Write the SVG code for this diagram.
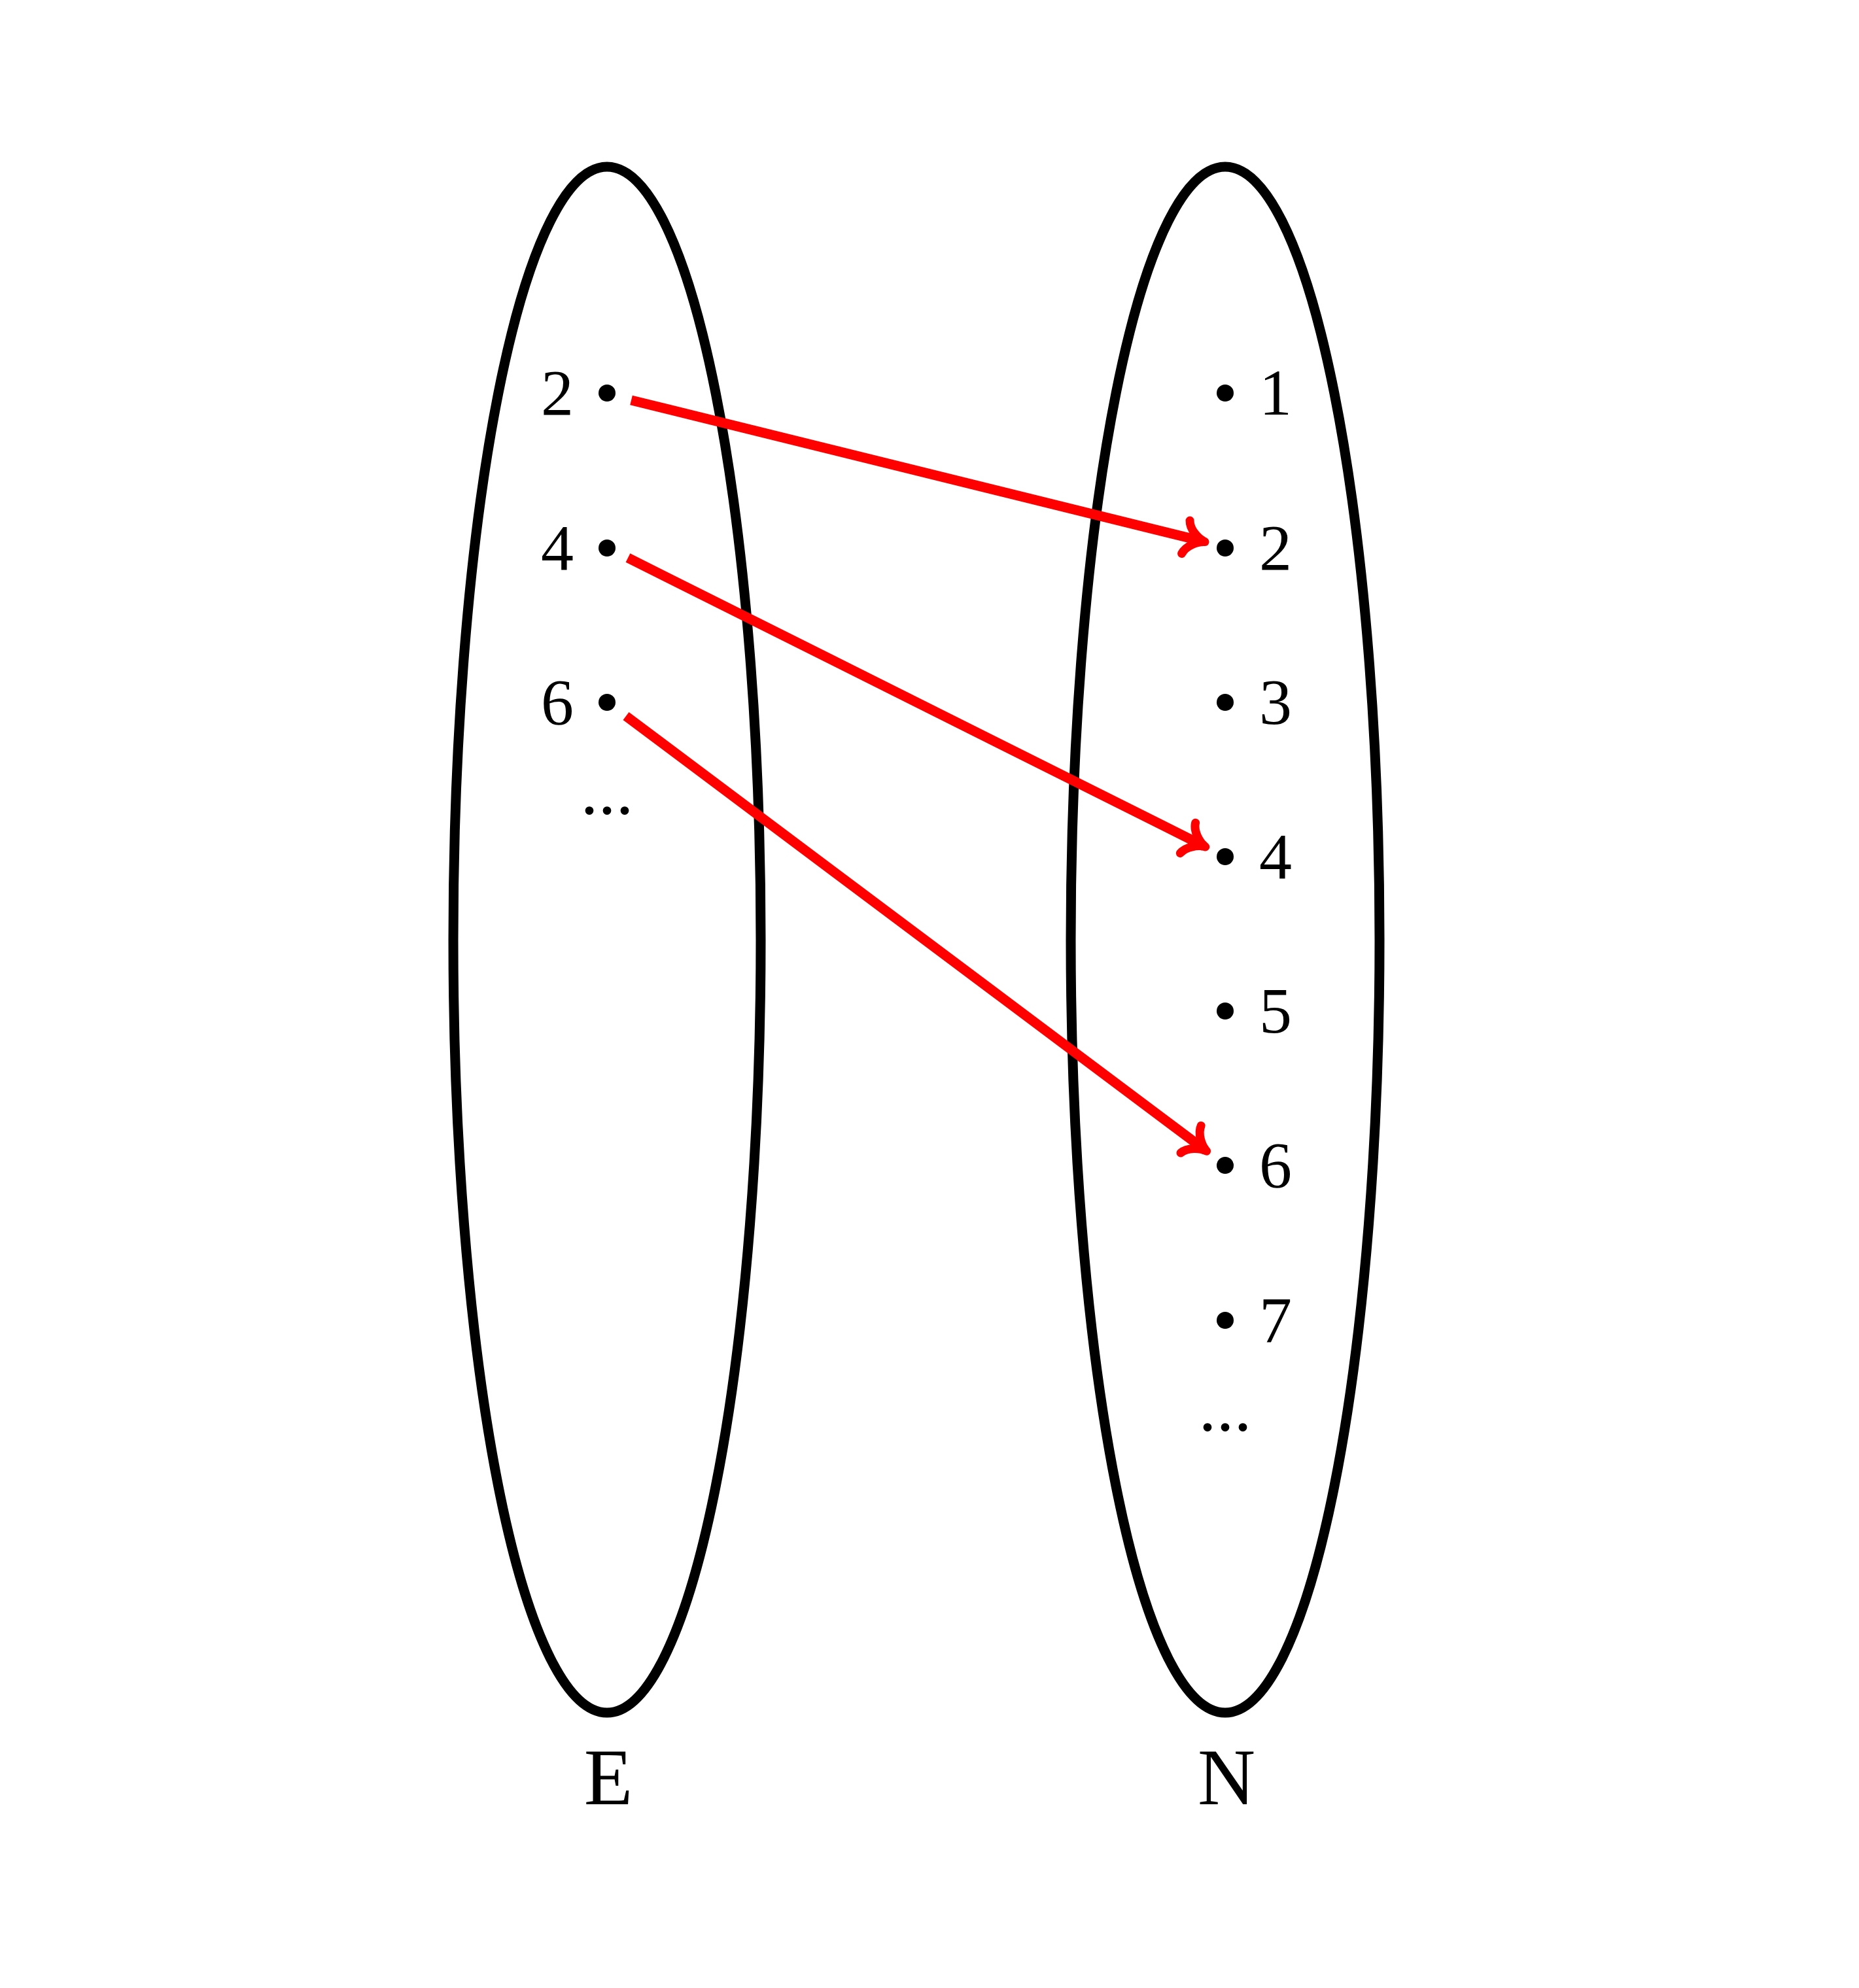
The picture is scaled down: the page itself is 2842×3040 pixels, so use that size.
<svg xmlns="http://www.w3.org/2000/svg" width="2842" height="3040" viewBox="0 0 2842 3040">
<style>
.set{fill:none;stroke:#000;stroke-width:15}
.pt{fill:#000}
.lbl{font-family:"Liberation Serif","DejaVu Serif",serif;font-size:100px;fill:#000;text-anchor:middle}
.name{font-family:"Liberation Serif","DejaVu Serif",serif;font-size:122px;fill:#000;text-anchor:middle}
.dots{font-family:"Liberation Serif","DejaVu Serif",serif;font-size:108px;fill:#000;text-anchor:middle}
.arr{fill:none;stroke:#ff0000;stroke-width:15;marker-end:url(#head)}
</style>
<defs>
<marker id="head" markerUnits="userSpaceOnUse" orient="auto" viewBox="-40 -40 50 80" refX="0" refY="0" markerWidth="50" markerHeight="80">
<path d="M -28,-26 C -25,-13 -9,-2 2,0 C -9,2 -25,13 -28,26" fill="none" stroke="#ff0000" stroke-width="13" stroke-linecap="round" stroke-linejoin="round"/>
</marker>
</defs>
<rect width="2842" height="3040" fill="#fff"/>
<g id="setE">
<ellipse class="set" cx="928" cy="1437" rx="235" ry="1182"/>
<text class="name" x="930" y="2759">E</text>
</g>
<g id="setN">
<ellipse class="set" cx="1873" cy="1437" rx="236" ry="1182"/>
<text class="name" x="1875" y="2759">N</text>
</g>
<g id="e2"><circle class="pt" cx="928" cy="601" r="13"/><text class="lbl" x="852" y="634">2</text></g>
<g id="e4"><circle class="pt" cx="928" cy="838" r="13"/><text class="lbl" x="852" y="871">4</text></g>
<g id="e6"><circle class="pt" cx="928" cy="1074" r="13"/><text class="lbl" x="852" y="1107">6</text></g>
<g id="eDots"><text class="dots" x="928" y="1244">...</text></g>
<g id="n1"><circle class="pt" cx="1873" cy="601" r="13"/><text class="lbl" x="1950" y="634">1</text></g>
<g id="n2"><circle class="pt" cx="1873" cy="838" r="13"/><text class="lbl" x="1950" y="871">2</text></g>
<g id="n3"><circle class="pt" cx="1873" cy="1074" r="13"/><text class="lbl" x="1950" y="1107">3</text></g>
<g id="n4"><circle class="pt" cx="1873" cy="1310" r="13"/><text class="lbl" x="1950" y="1343">4</text></g>
<g id="n5"><circle class="pt" cx="1873" cy="1546" r="13"/><text class="lbl" x="1950" y="1579">5</text></g>
<g id="n6"><circle class="pt" cx="1873" cy="1782" r="13"/><text class="lbl" x="1950" y="1815">6</text></g>
<g id="n7"><circle class="pt" cx="1873" cy="2019" r="13"/><text class="lbl" x="1950" y="2052">7</text></g>
<g id="nDots"><text class="dots" x="1873" y="2187">...</text></g>
<g id="connectors">
<line class="arr" x1="965" y1="612" x2="1840" y2="828"/>
<line class="arr" x1="960" y1="853" x2="1841" y2="1294"/>
<line class="arr" x1="957" y1="1095" x2="1843" y2="1759"/>
</g>
</svg>
